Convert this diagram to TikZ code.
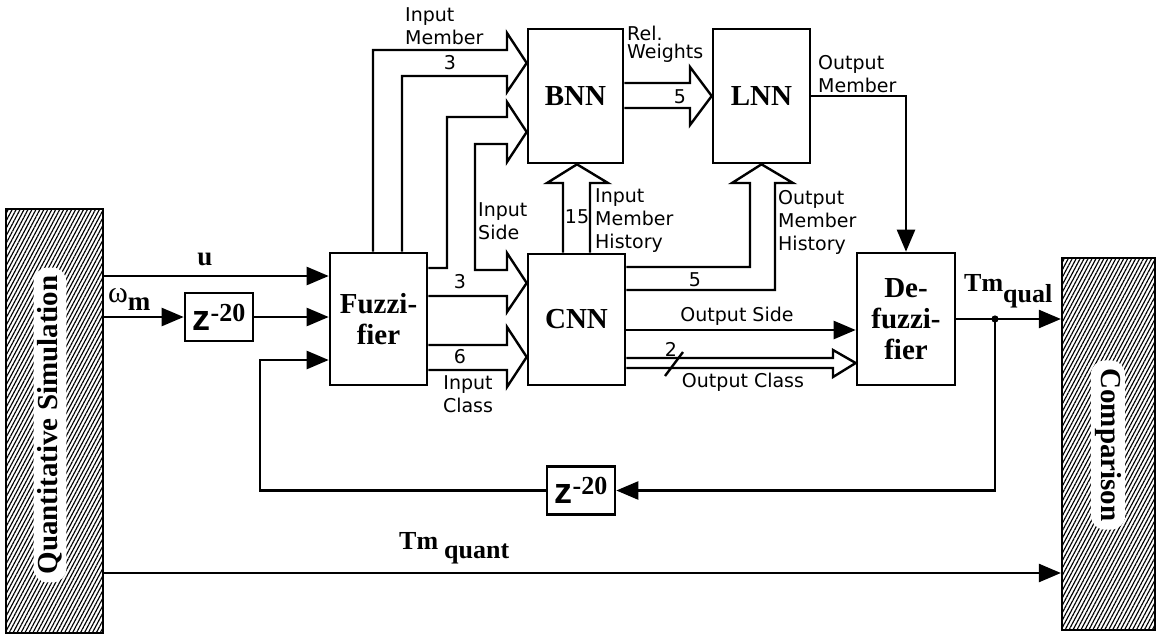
\documentclass[tikz,border=0pt]{standalone}
\usepackage{fontspec}
\setmainfont{Liberation Serif}
\newfontfamily\labelsans{DejaVu Sans}
\newfontfamily\zsans{Liberation Sans}
\usepackage{tikz}
\usetikzlibrary{arrows.meta,positioning,calc,patterns.meta}
\newcommand\blockfont{\fontsize{29}{31}\selectfont\bfseries}
\newcommand\labfont{\labelsans\fontsize{19}{23}\selectfont}
\newcommand\zdelay{{\zsans\bfseries\fontsize{36}{36}\selectfont z}{\bfseries\fontsize{26}{26}\selectfont\raisebox{9pt}{-20}}}

\begin{document}
\begin{tikzpicture}[x=1pt,y=-1pt,
 block/.style={draw,line width=2.6pt,inner sep=0pt,align=center,font=\blockfont},
 delay/.style={draw,line width=2.6pt,inner sep=0pt,minimum width=68pt,minimum height=48pt},
 simbox/.style={draw,line width=2.2pt,pattern={Lines[angle=62,distance=3.5pt,line width=1.15pt]}},
 simtext/.style={fill=white,rounded corners=14pt,inner xsep=8pt,inner ysep=4pt,font=\blockfont},
 wire/.style={line width=2.4pt},
 sig/.style={wire,-{Triangle[length=22pt,width=18pt]}},
 lab/.style={font=\labfont,align=left,inner sep=0pt},
 tag/.style={font=\labfont,inner sep=0pt},
]
\useasboundingbox (0,0) rectangle (1156,635);

\node[simbox,minimum width=97pt,minimum height=424pt] (qsim) at (54.5,421) {};
\node[simtext,rotate=90] (qsimlab) at (50,425) {Quantitative Simulation};
\node[simbox,minimum width=93pt,minimum height=372pt] (comp) at (1108.5,444) {};
\node[simtext,rotate=-90] (complab) at (1108,445) {Comparison};

\node[delay] (zin) at (219,317) {\zdelay};
\node[delay] (zfb) at (581,490.5) {\zdelay};
\node[block,minimum width=97pt,minimum height=132pt] (fuzz) at (378.5,319) {Fuzzi-\\fier};
\node[block,minimum width=95pt,minimum height=134pt] (bnn) at (575.5,96) {BNN};
\node[block,minimum width=97pt,minimum height=134pt] (lnn) at (761.5,96) {LNN};
\node[block,minimum width=97pt,minimum height=131pt] (cnn) at (576.5,319.5) {CNN};
\node[block,minimum width=98pt,minimum height=132pt] (defuzz) at (906,319) {De-\\fuzzi-\\fier};

\coordinate (tap) at (995,319);

\draw[sig] (qsim.east |- 0,276) -- (fuzz.west |- 0,276);
\draw[sig] (qsim.east |- zin.west) -- (zin.west);
\draw[sig] (zin.east) -- (fuzz.west |- zin.east);
\draw[sig] (defuzz.east) -- (comp.west |- defuzz.east);
\fill (tap) circle (3.6pt);
\draw[sig] (tap) |- (zfb.east);
\draw[sig] (zfb.west) -| (260,360) -- (fuzz.west |- 0,360);
\draw[sig] (qsim.east |- 0,573) -- (comp.west |- 0,573);
\draw[sig] (lnn.east) -| (defuzz.north);
\draw[sig] (cnn.east |- 0,330) -- (defuzz.west |- 0,330);

\draw[wire] (fuzz.north -| 373,0) |- (507,50) -- (507,33) -- (bnn.west |- 0,63) -- (507,92) -- (507,76) -| (fuzz.north -| 402,0);
\draw[wire] (fuzz.east |- 0,268) -| (447,117) -- (507,117) -- (507,102) -- (bnn.west |- 0,132) -- (507,162) -- (507,144) -| (475,270) -- (507,270) -- (507,253) -- (cnn.west |- 0,283) -- (507,312) -- (507,296) -- (fuzz.east |- 0,296);
\draw[wire] (fuzz.east |- 0,345) -- (507,345) -- (507,327) -- (cnn.west |- 0,357) -- (507,387) -- (507,370) -- (fuzz.east |- 0,370);
\draw[wire] (cnn.north -| 563,0) -- (563,183) -- (547,183) -- (bnn.south -| 577,0) -- (608,183) -- (590,183) -- (cnn.north -| 590,0);
\draw[wire] (bnn.east |- 0,83) -- (690,83) -- (690,67) -- (lnn.west) -- (690,125) -- (690,108) -- (bnn.east |- 0,108);
\draw[wire] (cnn.east |- 0,267) -| (750,183) -- (732,183) -- (lnn.south) -- (793,183) -- (775,183) |- (cnn.east |- 0,290);
\draw[wire] (cnn.east |- 0,358) -- (833,358) -- (833,350) -- (defuzz.west |- 0,363) -- (833,377) -- (833,368) -- (cnn.east |- 0,368);
\draw[wire] (665,376) -- (683,352);

\node[inner sep=0pt,font=\fontsize{27}{27}\selectfont\bfseries] (ulab) at (205,259) {u};
\node[anchor=base west,inner sep=0pt] (wlab) at (108,302) {\fontsize{30}{30}\selectfont ω\raisebox{-8pt}{\fontsize{27}{27}\selectfont\bfseries m}};
\node[anchor=base west,inner sep=0pt] (tqual) at (964,291) {\fontsize{26}{26}\selectfont\bfseries Tm\raisebox{-11pt}{\fontsize{26}{26}\selectfont qual}};
\node[anchor=base west,inner sep=0pt] (tquant) at (399,549) {\fontsize{26}{26}\selectfont\bfseries Tm\hspace{6pt}\raisebox{-9pt}{\fontsize{26}{26}\selectfont quant}};

\node[lab,anchor=north west] (inmem) at (405,7) {Input\\Member};
\node[tag] (w3a) at (450,63) {3};
\node[lab,anchor=north west] (inside) at (478,202) {Input\\Side};
\node[tag] (w3b) at (460,282) {3};
\node[tag] (w6) at (460,357) {6};
\node[lab,align=center,anchor=north] (inclass) at (468,375) {Input\\Class};
\node[tag] (w15) at (577,217) {15};
\node[lab,anchor=north west] (inhist) at (595,188) {Input\\Member\\History};
\node[lab,anchor=north west,font=\labelsans\fontsize{19}{18}\selectfont] (relw) at (627,26) {Rel.\\Weights};
\node[tag] (w5a) at (680,97) {5};
\node[tag] (w5b) at (695,280) {5};
\node[lab,anchor=north west] (outmem) at (818,55) {Output\\Member};
\node[lab,anchor=north west] (outhist) at (778,190) {Output\\Member\\History};
\node[tag,anchor=south] (outside) at (737,326) {Output Side};
\node[tag] (w2) at (671,349) {2};
\node[tag,anchor=north] (outclass) at (743,373) {Output Class};
\end{tikzpicture}
\end{document}
